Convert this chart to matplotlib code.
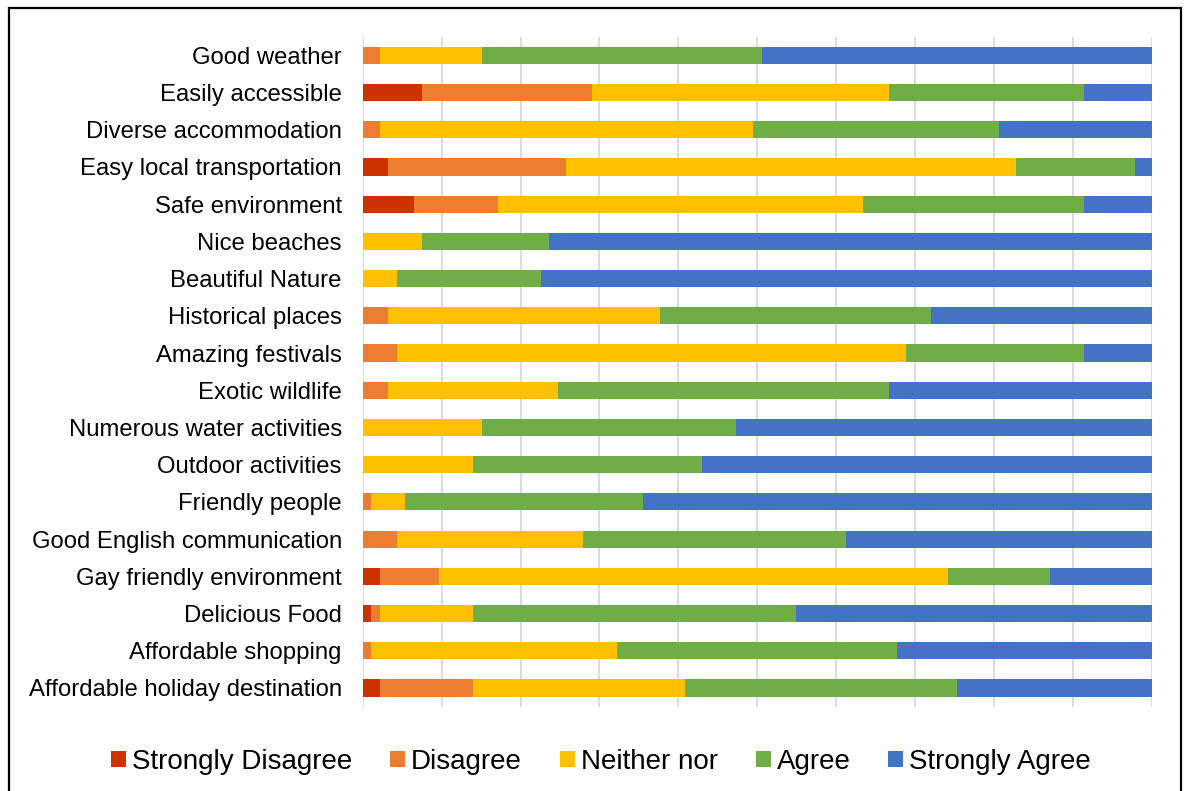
import matplotlib
matplotlib.use('Agg')
import matplotlib.pyplot as plt
import numpy as np
from matplotlib.patches import Rectangle

# survey answers (counts out of 93 respondents)
categories = ['Good weather', 'Easily accessible', 'Diverse accommodation',
              'Easy local transportation', 'Safe environment', 'Nice beaches',
              'Beautiful Nature', 'Historical places', 'Amazing festivals',
              'Exotic wildlife', 'Numerous water activities', 'Outdoor activities',
              'Friendly people', 'Good English communication',
              'Gay friendly environment', 'Delicious Food', 'Affordable shopping',
              'Affordable holiday destination']

strongly_disagree = [0, 7, 0, 3, 6, 0, 0, 0, 0, 0, 0, 0, 0, 0, 2, 1, 0, 2]
disagree          = [2, 20, 2, 21, 10, 0, 0, 3, 4, 3, 0, 0, 1, 4, 7, 1, 1, 11]
neither           = [12, 35, 44, 53, 43, 7, 4, 32, 60, 20, 14, 13, 4, 22, 60, 11, 29, 25]
agree             = [33, 23, 29, 14, 26, 15, 17, 32, 21, 39, 30, 27, 28, 31, 12, 38, 33, 32]
strongly_agree    = [46, 8, 18, 2, 8, 71, 72, 26, 8, 31, 49, 53, 60, 36, 12, 42, 30, 23]

series_names = ['Strongly Disagree', 'Disagree', 'Neither nor', 'Agree', 'Strongly Agree']
colors = ['#CC3300', '#ED7D31', '#FFC000', '#70AD47', '#4472C4']

data = np.array([strongly_disagree, disagree, neither, agree, strongly_agree], dtype=float)
pct = data / data.sum(axis=0) * 100

W, H = 1189, 791
fig = plt.figure(figsize=(W / 100, H / 100), dpi=100)
ax = fig.add_axes([362.7 / W, 1 - 706.6 / H, (1152 - 362.7) / W, (706.6 - 36.7) / H])

y = np.arange(len(categories))
left = np.zeros(len(categories))
for vals, name, col in zip(pct, series_names, colors):
    ax.barh(y, vals, left=left, height=0.46, color=col, label=name, zorder=3)
    left += vals

ax.set_xlim(0, 100)
ax.set_ylim(len(categories) - 0.5, -0.5)
ax.set_xticks(np.arange(0, 101, 10))
ax.set_xticklabels([])
ax.set_yticks(y)
ax.set_yticklabels(categories, fontsize=17.2, family='Liberation Sans')
ax.tick_params(axis='both', length=0)
ax.tick_params(axis='y', pad=15)
ax.grid(axis='x', color='#D9D9D9', linewidth=1.3, zorder=0)
for s in ax.spines.values():
    s.set_visible(False)

handles, labels = ax.get_legend_handles_labels()
fig.legend(handles, labels, loc='center', bbox_to_anchor=(601 / W, 1 - 762 / H),
           ncol=5, frameon=False, prop={'family': 'Liberation Sans', 'size': 20},
           handlelength=0.54, handleheight=0.54, handletextpad=0.22,
           columnspacing=1.36, borderaxespad=0)

# outer frame
fig.patches.append(Rectangle((8.5 / W, -0.1), (1181 - 8.5) / W, 1.1 - 7.5 / H,
                             transform=fig.transFigure, fill=False,
                             edgecolor='black', linewidth=1.6))

fig.savefig('out.png', dpi=100)
